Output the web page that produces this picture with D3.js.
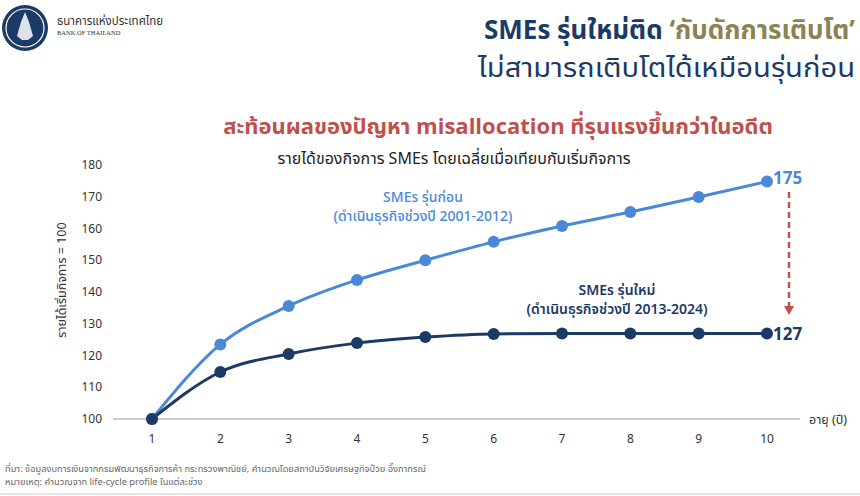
<!DOCTYPE html>
<html><head><meta charset="utf-8">
<script src="https://cdn.jsdelivr.net/npm/d3@7"></script>
<style>
body{margin:0;background:#fff;}
svg{display:block;font-family:"Noto Sans Thai","Noto Sans","Open Sans",sans-serif;}
</style></head><body>
<svg id="c" width="860" height="496"></svg>
<script>
const years = [1,2,3,4,5,6,7,8,9,10];
const oldSMEs = [100,123.5,135.6,143.8,150,155.8,160.8,165.2,169.9,174.8];
const newSMEs = [100,114.8,120.5,123.9,125.8,126.8,126.9,126.9,126.9,126.9];
const yTicks = [100,110,120,130,140,150,160,170,180];
const oldLabel = ["SMEs รุ่นก่อน","(ดำเนินธุรกิจช่วงปี 2001-2012)"];
const newLabel = ["SMEs รุ่นใหม่","(ดำเนินธุรกิจช่วงปี 2013-2024)"];
const endLabels = ["175","127"];

const svg = d3.select("#c");
const navy = "#1b3a66", blue = "#4a88d8", red = "#c0504d", gold = "#8c8352";

const x = d3.scaleLinear().domain([1,10]).range([152,767]);
const y = d3.scaleLinear().domain([100,180]).range([419,165]);

// logo
const lg = svg.append("g");
lg.append("circle").attr("cx",25).attr("cy",28).attr("r",23).attr("fill",navy);
lg.append("circle").attr("cx",25).attr("cy",28).attr("r",19).attr("fill","none").attr("stroke","#fff").attr("stroke-width",1.2);
lg.append("path").attr("d","M25 12 L29 22 L33 36 L28 40 L22 40 L17 36 L21 22 Z").attr("fill","#fff").attr("opacity",0.85);
lg.append("text").attr("x",57).attr("y",25).attr("font-size",11.5).attr("fill","#333").text("ธนาคารแห่งประเทศไทย");
lg.append("text").attr("x",57).attr("y",35).attr("font-size",6.5).attr("font-family","Liberation Serif, serif").attr("fill","#333").text("BANK OF THAILAND");

// titles
const t1 = svg.append("text").attr("x",855).attr("y",39).attr("text-anchor","end").attr("font-size",26).attr("font-weight",700).attr("fill",navy);
t1.append("tspan").text("SMEs รุ่นใหม่ติด ");
t1.append("tspan").attr("fill",gold).text("‘กับดักการเติบโต’");
svg.append("text").attr("x",855).attr("y",77).attr("text-anchor","end").attr("font-size",26).attr("fill",navy)
  .attr("textLength",377).attr("lengthAdjust","spacingAndGlyphs").text("ไม่สามารถเติบโตได้เหมือนรุ่นก่อน");

svg.append("text").attr("x",498).attr("y",134).attr("text-anchor","middle").attr("font-size",22).attr("font-weight",700).attr("fill",red).text("สะท้อนผลของปัญหา misallocation ที่รุนแรงขึ้นกว่าในอดีต");
svg.append("text").attr("x",454).attr("y",164).attr("text-anchor","middle").attr("font-size",16).attr("fill","#222").text("รายได้ของกิจการ SMEs โดยเฉลี่ยเมื่อเทียบกับเริ่มกิจการ");

// axes
svg.append("line").attr("x1",113).attr("x2",800).attr("y1",y(100)).attr("y2",y(100)).attr("stroke","#999").attr("stroke-width",1.2);
svg.append("text").attr("x",809).attr("y",y(100)+5).attr("font-size",12.5).attr("fill","#333").text("อายุ (ปี)");
svg.selectAll(".yt").data(yTicks).enter().append("text").attr("x",102).attr("y",d=>y(d)+4).attr("text-anchor","end").attr("font-size",12).attr("fill","#333").text(d=>d);
svg.selectAll(".xt").data(years).enter().append("text").attr("x",d=>x(d)).attr("y",443).attr("text-anchor","middle").attr("font-size",12).attr("fill","#333").text(d=>d);
svg.append("text").attr("transform","translate(66,280) rotate(-90)").attr("text-anchor","middle").attr("font-size",12.5).attr("fill","#333").text("รายได้เริ่มกิจการ = 100");

// lines
const line = d3.line().x((d,i)=>x(years[i])).y(d=>y(d)).curve(d3.curveMonotoneX);
svg.append("path").attr("d",line(oldSMEs)).attr("fill","none").attr("stroke",blue).attr("stroke-width",3);
svg.append("path").attr("d",line(newSMEs)).attr("fill","none").attr("stroke",navy).attr("stroke-width",3);
svg.selectAll(".po").data(oldSMEs).enter().append("circle").attr("cx",(d,i)=>x(years[i])).attr("cy",d=>y(d)).attr("r",6).attr("fill",blue);
svg.selectAll(".pn").data(newSMEs).enter().append("circle").attr("cx",(d,i)=>x(years[i])).attr("cy",d=>y(d)).attr("r",6).attr("fill",navy);

// annotations
oldLabel.forEach((s,i)=>svg.append("text").attr("x",423).attr("y",202+i*19).attr("text-anchor","middle").attr("font-size",14).attr("font-weight",500).attr("fill",blue).text(s));
newLabel.forEach((s,i)=>svg.append("text").attr("x",617).attr("y",295+i*19).attr("text-anchor","middle").attr("font-size",14).attr("font-weight",600).attr("fill",navy).text(s));
svg.append("text").attr("x",773).attr("y",y(oldSMEs[9])+2).attr("font-size",17).attr("font-weight",700).attr("fill",blue).text(endLabels[0]);
svg.append("text").attr("x",773).attr("y",y(newSMEs[9])+6).attr("font-size",17).attr("font-weight",700).attr("fill",navy).text(endLabels[1]);

// dashed arrow
svg.append("line").attr("x1",789).attr("x2",789).attr("y1",192).attr("y2",307).attr("stroke",red).attr("stroke-width",2.5).attr("stroke-dasharray","6,4");
svg.append("path").attr("d","M784 306 L794 306 L789 315 Z").attr("fill",red);

// footnotes
svg.append("text").attr("x",5).attr("y",472).attr("font-size",9.3).attr("fill","#666").text("ที่มา: ข้อมูลงบการเงินจากกรมพัฒนาธุรกิจการค้า กระทรวงพาณิชย์, คำนวณโดยสถาบันวิจัยเศรษฐกิจป๋วย อึ๊งภากรณ์");
svg.append("text").attr("x",5).attr("y",485).attr("font-size",9.3).attr("fill","#666").text("หมายเหตุ: คำนวณจาก life-cycle profile ในแต่ละช่วง");
svg.append("line").attr("x1",0).attr("x2",860).attr("y1",494).attr("y2",494).attr("stroke","#ccc").attr("stroke-width",1);
</script></body></html>
